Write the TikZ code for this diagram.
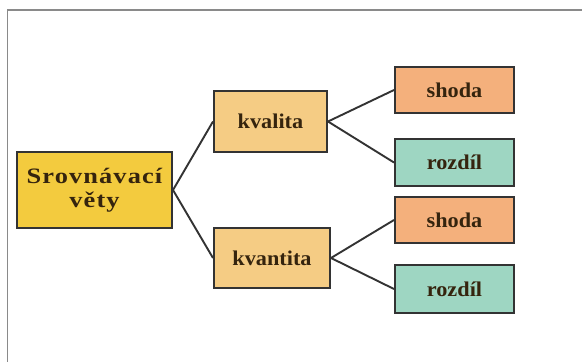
\documentclass[tikz,border=0pt]{standalone}
\usepackage{fontspec}
\setmainfont{Liberation Serif}
\newfontfamily\boxfont[FakeStretch=1.06]{Liberation Serif}
\newfontfamily\rootfont[FakeStretch=1.2,LetterSpace=5]{Liberation Serif}
\definecolor{frameGray}{HTML}{8A8A8A}
\definecolor{edgeGray}{HTML}{333333}
\definecolor{txtBrown}{HTML}{35240E}
\definecolor{rootFill}{HTML}{F3CB3E}
\definecolor{midFill}{HTML}{F5CC84}
\definecolor{shodaFill}{HTML}{F4B07C}
\definecolor{rozdilFill}{HTML}{9ED6C2}
\tikzset{
  box/.style={draw=edgeGray, line width=2pt, rectangle, inner sep=0pt,
    text=txtBrown, font=\boxfont\bfseries\fontsize{21}{24}\selectfont},
  rootbox/.style={box, fill=rootFill, minimum width=155pt, minimum height=76pt,
    align=center, font=\rootfont\bfseries\fontsize{22}{24}\selectfont},
  midbox/.style={box, fill=midFill, minimum height=61pt},
  shodabox/.style={box, fill=shodaFill, minimum width=119pt, minimum height=46pt},
  rozdilbox/.style={box, fill=rozdilFill, minimum width=119pt, minimum height=47pt},
  link/.style={draw=edgeGray, line width=1.9pt}
}
\begin{document}
\begin{tikzpicture}[x=1pt,y=-1pt]
\useasboundingbox (0,0) rectangle (582,362);
\fill[white] (0,0) rectangle (582,362);
\draw[frameGray, line width=1.6pt] (7.5,362) -- (7.5,10) -- (582,10);

\node[rootbox] (root) at (94.5,190) {Srovnávací\\věty};
\node[midbox, minimum width=113pt] (kvalita) at (270.5,121.5) {kvalita};
\node[midbox, minimum width=116pt, minimum height=60pt] (kvantita) at (272,258) {kvantita};
\node[shodabox] (shoda1) at (454.5,90) {shoda};
\node[rozdilbox] (rozdil1) at (454.5,162.5) {rozdíl};
\node[shodabox] (shoda2) at (454.5,220) {shoda};
\node[rozdilbox, minimum height=48pt] (rozdil2) at (454.5,289) {rozdíl};

\draw[link] (root.east) -- (kvalita.west);
\draw[link] (root.east) -- (kvantita.west);
\draw[link] (kvalita.east) -- (shoda1.west);
\draw[link] (kvalita.east) -- (rozdil1.west);
\draw[link] (kvantita.east) -- (shoda2.west);
\draw[link] (kvantita.east) -- (rozdil2.west);
\end{tikzpicture}
\end{document}
